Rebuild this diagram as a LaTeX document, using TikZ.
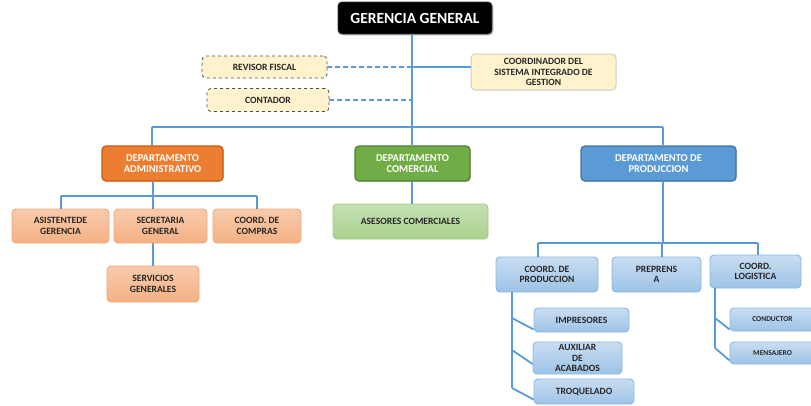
\documentclass[tikz,border=0pt]{standalone}
\usepackage{fontspec}
\setmainfont{Carlito}
\usetikzlibrary{shadows}
\definecolor{lnblue}{HTML}{5B9BD5}
\definecolor{yel}{HTML}{FFF2CC}
\definecolor{orD}{HTML}{ED7D31}
\definecolor{orB}{HTML}{C55A11}
\definecolor{salT}{HTML}{F8CBAD}
\definecolor{salB}{HTML}{F4B183}
\definecolor{grD}{HTML}{70AD47}
\definecolor{grB}{HTML}{507E32}
\definecolor{lgT}{HTML}{C5E0B4}
\definecolor{lgB}{HTML}{A9D18E}
\definecolor{blD}{HTML}{5B9BD5}
\definecolor{blB}{HTML}{41719C}
\definecolor{lbT}{HTML}{C9DDF1}
\definecolor{lbB}{HTML}{9DC3E6}
\definecolor{txt}{HTML}{262626}
\tikzset{
  box/.style={rounded corners=4pt, inner sep=1pt, align=center, font=\bfseries\fontsize{9.6}{10.5}\selectfont, text=txt, line width=0.9pt},
  topbox/.style={box, fill=black, draw=black!80, text=white, font=\bfseries\fontsize{15.5}{17}\selectfont, drop shadow={shadow xshift=1.5pt, shadow yshift=-1.5pt, opacity=0.35}},
  yelbox/.style={box, fill=yel, draw=black!70, dashed, line width=0.8pt},
  coorbox/.style={box, fill=yel, draw=black!20, line width=1pt},
  deptbox/.style={box, text=white, font=\bfseries\fontsize{10.5}{11}\selectfont, line width=1.2pt, drop shadow={shadow xshift=1pt, shadow yshift=-1pt, opacity=0.25}},
  orbox/.style={deptbox, fill=orD, draw=orB},
  grbox/.style={deptbox, fill=grD, draw=grB},
  bldbox/.style={deptbox, fill=blD, draw=blB},
  salbox/.style={box, top color=salT, bottom color=salB, draw=salB!80!orD},
  lgbox/.style={box, top color=lgT, bottom color=lgB, draw=lgB!80!grD},
  lbbox/.style={box, top color=lbT, bottom color=lbB, draw=lbB!70!blD},
  conn/.style={draw=lnblue, line width=1.8pt},
  dconn/.style={draw=lnblue, line width=1.8pt, dash pattern=on 5pt off 3pt},
}
\begin{document}
\begin{tikzpicture}[x=1pt,y=-1pt]
\useasboundingbox (0,0) rectangle (811,405);
\begin{scope}
\clip (0,0) rectangle (811,405);
% coordinates
\coordinate (j0) at (412,127);
\coordinate (jl) at (152,127);
\coordinate (jr) at (663,127);
\coordinate (cj) at (412,67);
\coordinate (ja) at (153,196);
\coordinate (jal) at (61,196);
\coordinate (jar) at (257,196);
\coordinate (jp) at (663,243);
\coordinate (jpl) at (538,243);
\coordinate (jpr) at (758,243);
\coordinate (jpc) at (662,243);
\coordinate (vp) at (512,388);
\coordinate (vl) at (715,348);
\coordinate (vp1) at (512,318);
\coordinate (vp2) at (512,350);
\coordinate (vl1) at (715,318);

% nodes
\node[topbox, minimum width=154, minimum height=32] (gg) at (415,18) {GERENCIA GENERAL};
\node[yelbox, minimum width=125, minimum height=22] (rf) at (264.5,67) {REVISOR FISCAL};
\node[yelbox, minimum width=122, minimum height=23] (ct) at (268,100) {CONTADOR};
\node[coorbox, minimum width=145, minimum height=36] (co) at (543.5,72) {COORDINADOR DEL\\SISTEMA INTEGRADO DE\\GESTION};
\node[orbox, minimum width=121, minimum height=35] (da) at (162.5,163.5) {DEPARTAMENTO\\ADMINISTRATIVO};
\node[grbox, minimum width=115, minimum height=35] (dc) at (412.5,163.5) {DEPARTAMENTO\\COMERCIAL};
\node[bldbox, minimum width=155, minimum height=35] (dp) at (658.5,163.5) {DEPARTAMENTO DE\\PRODUCCION};
\node[salbox, minimum width=97, minimum height=34] (as) at (60.5,226) {ASISTENTEDE\\GERENCIA};
\node[salbox, minimum width=93, minimum height=34] (sg) at (160.5,226) {SECRETARIA\\GENERAL};
\node[salbox, minimum width=88, minimum height=34] (cc) at (257,226) {COORD. DE\\COMPRAS};
\node[salbox, minimum width=92, minimum height=36] (sv) at (153,284) {SERVICIOS\\GENERALES};
\node[lgbox, minimum width=155, minimum height=35] (ac) at (410.5,221.5) {ASESORES COMERCIALES};
\node[lbbox, minimum width=102, minimum height=35] (cp) at (547,274.5) {COORD. DE\\PRODUCCION};
\node[lbbox, minimum width=89, minimum height=35] (pp) at (656.5,274.5) {PREPRENS\\A};
\node[lbbox, minimum width=91, minimum height=33] (cl) at (755.5,271.5) {COORD.\\LOGISTICA};
\node[lbbox, minimum width=95, minimum height=24] (im) at (581.5,320) {IMPRESORES};
\node[lbbox, minimum width=89, minimum height=32, font=\bfseries\fontsize{9.6}{10.5}\selectfont] (ax) at (577.5,358) {AUXILIAR\\DE\\ACABADOS};
\node[lbbox, minimum width=100, minimum height=25] (tq) at (584,391.5) {TROQUELADO};
\node[lbbox, minimum width=85, minimum height=23, font=\bfseries\fontsize{7.5}{8}\selectfont] (cd) at (772.5,319.5) {CONDUCTOR};
\node[lbbox, minimum width=85, minimum height=22, font=\bfseries\fontsize{7.5}{8}\selectfont] (ms) at (772.5,353) {MENSAJERO};

% connectors
\draw[conn] (gg.south -| j0) -- (j0);
\draw[conn] (jl) -- (jr);
\draw[conn] (jl) -- (jl |- da.north);
\draw[conn] (j0) -- (j0 |- dc.north);
\draw[conn] (jr) -- (jr |- dp.north);
\draw[dconn] (rf.east) -- (rf.east -| j0);
\draw[dconn] (ct.east) -- (ct.east -| j0);
\draw[conn, line width=1.4pt] (cj) -- (cj -| co.west);
% admin
\draw[conn] (da.south -| ja) -- (ja);
\draw[conn] (jal) -- (jar);
\draw[conn] (jal) -- (jal |- as.north);
\draw[conn] (ja) -- (ja |- sg.north);
\draw[conn] (jar) -- (jar |- cc.north);
\draw[conn] (sg.south -| ja) -- (ja |- sv.north);
% comercial
\draw[conn] (dc.south -| j0) -- (j0 |- ac.north);
% produccion
\draw[conn] (dp.south -| jp) -- (jp);
\draw[conn] (jpl) -- (jpr);
\draw[conn] (jpl) -- (jpl |- cp.north);
\draw[conn] (jpc) -- (jpc |- pp.north);
\draw[conn] (jpr) -- (jpr |- cl.north);
\draw[conn] (cp.south -| vp) -- (vp);
\draw[conn] (vp1) -- ([yshift=3pt]im.south west);
\draw[conn] (vp2) -- ([yshift=-6pt]ax.west);
\draw[conn] (vp) -- ([yshift=5pt]tq.south west);
\draw[conn] (cl.south -| vl) -- (vl);
\draw[conn] (vl1) -- ([yshift=2pt]cd.south west);
\draw[conn] (vl) -- ([yshift=4pt]ms.south west);
\end{scope}
\end{tikzpicture}
\end{document}
